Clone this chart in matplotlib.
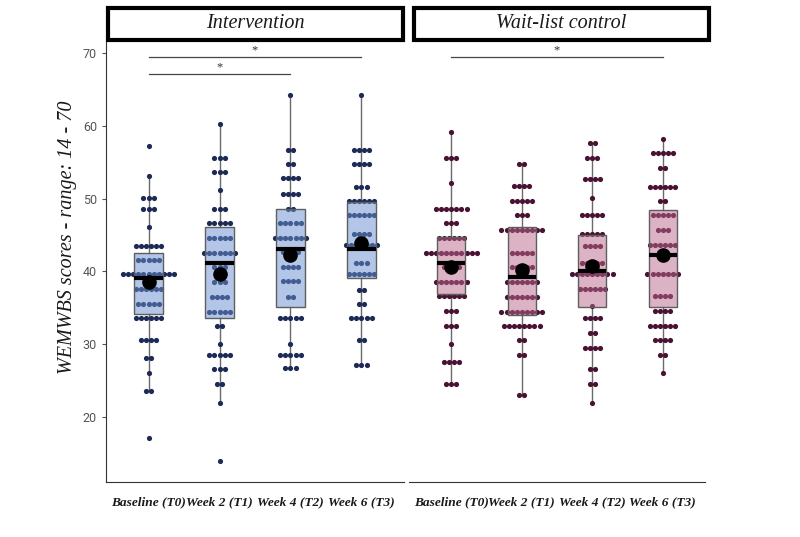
import matplotlib
matplotlib.use("Agg")
import matplotlib.pyplot as plt
from matplotlib.patches import Rectangle
from matplotlib.colors import to_rgba

# dot rows: value of each row, number of dots in that row
int_t0_vals = [57.2, 53.1, 50.1, 48.6, 46.1, 43.5, 41.6, 39.6, 37.6, 35.6, 33.6, 30.6, 28.1, 26.0, 23.6, 17.1]
int_t0_counts = [1, 1, 3, 3, 1, 6, 5, 11, 6, 5, 6, 4, 2, 1, 2, 1]
int_t1_vals = [60.2, 55.6, 53.6, 51.2, 48.6, 46.6, 44.6, 42.6, 40.6, 38.6, 36.5, 34.5, 32.5, 30.1, 28.5, 26.6, 24.5, 22.0, 14.0]
int_t1_counts = [1, 3, 3, 1, 3, 5, 5, 7, 3, 3, 4, 5, 2, 1, 5, 3, 2, 1, 1]
int_t2_vals = [64.2, 56.7, 54.7, 52.8, 50.7, 48.6, 46.6, 44.6, 42.7, 40.6, 38.7, 36.5, 33.6, 30.1, 28.6, 26.7]
int_t2_counts = [1, 2, 2, 4, 4, 2, 5, 7, 4, 4, 4, 2, 5, 1, 5, 3]
int_t3_vals = [64.2, 56.7, 54.7, 51.6, 49.7, 47.7, 45.1, 43.6, 41.1, 39.6, 37.5, 35.6, 33.6, 30.6, 27.1]
int_t3_counts = [1, 4, 4, 3, 6, 6, 4, 7, 3, 6, 2, 2, 5, 2, 3]

wl_t0_vals = [59.1, 55.6, 52.2, 48.6, 46.6, 44.6, 42.6, 40.6, 38.6, 36.6, 34.6, 32.5, 30.1, 27.6, 24.6]
wl_t0_counts = [1, 3, 1, 7, 3, 6, 11, 4, 7, 6, 3, 3, 1, 4, 3]
wl_t1_vals = [54.8, 51.7, 49.7, 47.7, 45.7, 42.6, 40.6, 38.6, 36.5, 34.5, 32.5, 30.6, 28.5, 23.0]
wl_t1_counts = [2, 4, 5, 3, 9, 5, 5, 7, 7, 9, 8, 2, 2, 2]
wl_t2_vals = [57.7, 55.6, 52.7, 50.1, 47.7, 45.1, 43.5, 41.1, 39.6, 37.6, 35.2, 33.6, 31.6, 29.5, 26.6, 24.6, 22.0]
wl_t2_counts = [2, 3, 4, 1, 5, 5, 4, 5, 9, 6, 1, 4, 2, 4, 2, 2, 1]
wl_t3_vals = [58.2, 56.2, 54.2, 51.6, 49.7, 47.7, 45.7, 43.6, 42.3, 39.6, 36.6, 34.6, 32.5, 30.6, 28.6, 26.0]
wl_t3_counts = [1, 5, 2, 6, 2, 5, 3, 6, 2, 7, 4, 4, 6, 4, 2, 1]

# box summaries
int_q1 = [34.1, 33.6, 35.1, 39.1]
int_med = [39.1, 41.1, 43.1, 43.1]
int_q3 = [42.6, 46.1, 48.6, 49.6]
int_lo = [23.6, 22.0, 26.7, 27.1]
int_hi = [53.1, 60.2, 64.2, 64.2]
int_mean = [38.6, 39.7, 42.3, 43.9]

wl_q1 = [36.9, 34.0, 35.1, 35.1]
wl_med = [41.2, 39.3, 40.0, 42.3]
wl_q3 = [44.8, 46.1, 45.0, 48.4]
wl_lo = [24.6, 23.0, 22.0, 26.0]
wl_hi = [59.1, 54.8, 57.7, 58.2]
wl_mean = [40.6, 40.2, 40.7, 42.3]

time_labels = ["Baseline (T0)", "Week 2 (T1)", "Week 4 (T2)", "Week 6 (T3)"]
panel_titles = ["Intervention", "Wait-list control"]

serif = "Liberation Serif"
step = 0.072


def draw_dots(ax, x, vals, counts, color):
    xs, ys = [], []
    for v, n in zip(vals, counts):
        for k in range(n):
            xs.append(x + (k - (n - 1) / 2) * step)
            ys.append(v)
    ax.scatter(xs, ys, s=14, color=color, linewidths=0, zorder=2)


def draw_boxes(ax, q1, med, q3, lo, hi, mean, fill):
    stats = []
    for i in range(4):
        stats.append({"q1": q1[i], "med": med[i], "q3": q3[i],
                      "whislo": lo[i], "whishi": hi[i], "mean": mean[i], "fliers": []})
    bp = ax.bxp(stats, positions=[1, 2, 3, 4], widths=0.4, patch_artist=True,
                showfliers=False, showcaps=False, showmeans=True,
                boxprops=dict(facecolor=to_rgba(fill, 0.5), edgecolor="#5e5e5e", linewidth=1),
                whiskerprops=dict(color="#6a6a6a", linewidth=1),
                medianprops=dict(color="black", linewidth=3, solid_capstyle="butt"),
                meanprops=dict(marker="o", markerfacecolor="black", markeredgecolor="black",
                               markersize=9.5))
    for w in bp["whiskers"]:
        w.set_zorder(1)
    for b in bp["boxes"]:
        b.set_zorder(3)
    for m in bp["medians"]:
        m.set_zorder(4)
    for m in bp["means"]:
        m.set_zorder(5)


def sig_bar(ax, x1, x2, y):
    ax.plot([x1, x2], [y, y], color="#444444", lw=0.9, zorder=1)
    ax.text((x1 + x2) / 2, y + 0.1, "*", ha="center", va="bottom", fontsize=9,
            family=serif, color="#333333")


W, H = 800, 537
fig = plt.figure(figsize=(8, 5.37), dpi=100)
ax1 = fig.add_axes([106 / W, 1 - 482 / H, 298 / W, 440 / H])
ax2 = fig.add_axes([409 / W, 1 - 482 / H, 296 / W, 440 / H])

int_color = "#1c2a55"
wl_color = "#4a1232"

for i, (v, c) in enumerate([(int_t0_vals, int_t0_counts), (int_t1_vals, int_t1_counts),
                            (int_t2_vals, int_t2_counts), (int_t3_vals, int_t3_counts)]):
    draw_dots(ax1, i + 1, v, c, int_color)
for i, (v, c) in enumerate([(wl_t0_vals, wl_t0_counts), (wl_t1_vals, wl_t1_counts),
                            (wl_t2_vals, wl_t2_counts), (wl_t3_vals, wl_t3_counts)]):
    draw_dots(ax2, i + 1, v, c, wl_color)

draw_boxes(ax1, int_q1, int_med, int_q3, int_lo, int_hi, int_mean, "#6a8fd0")
draw_boxes(ax2, wl_q1, wl_med, wl_q3, wl_lo, wl_hi, wl_mean, "#bb668c")

sig_bar(ax1, 1, 4, 69.5)
sig_bar(ax1, 1, 3, 67.1)
sig_bar(ax2, 1, 4, 69.4)

for ax in (ax1, ax2):
    ax.set_xlim(0.4, 4.6)
    ax.set_ylim(11.1, 71.5)
    ax.set_xticks([1, 2, 3, 4])
    ax.set_xticklabels(time_labels, family=serif, style="italic", weight="bold",
                       fontsize=9.6, color="#1a1a1a")
    ax.tick_params(axis="x", length=0, pad=10)
    for s in ("top", "right", "left"):
        ax.spines[s].set_visible(False)
    ax.spines["bottom"].set_color("#333333")

ax1.spines["left"].set_visible(True)
ax1.spines["left"].set_color("#333333")
ax1.set_yticks([20, 30, 40, 50, 60, 70])
ax1.tick_params(axis="y", length=3, color="#555555", labelcolor="#555555", labelsize=9)
for t in ax1.get_yticklabels():
    t.set_family("Roboto")
ax2.set_yticks([])

# facet strips
strips = [(108, 403), (413.7, 708.7)]
for (x0, x1), title in zip(strips, panel_titles):
    fig.add_artist(Rectangle((x0 / W, 1 - 40 / H), (x1 - x0) / W, 32 / H,
                             transform=fig.transFigure, facecolor="white",
                             edgecolor="black", linewidth=3))
    fig.text((x0 + x1) / 2 / W, 1 - 24 / H, title, ha="center", va="center",
             family=serif, style="italic", fontsize=14.5, color="#1a1a1a")

fig.text(68 / W, 1 - 237 / H, "WEMWBS scores - range: 14 - 70", rotation=90,
         ha="center", va="center", family=serif, style="italic", fontsize=14.5,
         color="#1a1a1a")

fig.savefig("out.png", dpi=100)
